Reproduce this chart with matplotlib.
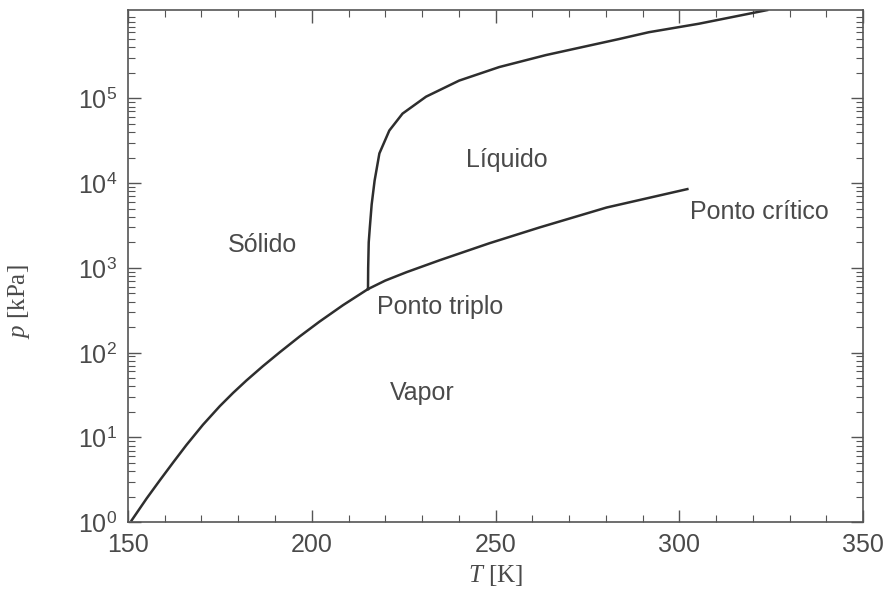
import matplotlib
matplotlib.use("Agg")
import matplotlib.pyplot as plt
import matplotlib.ticker as ticker
import numpy as np

plt.rcParams["mathtext.fontset"] = "custom"
plt.rcParams["mathtext.rm"] = "Liberation Sans"
plt.rcParams["mathtext.it"] = "Liberation Serif:italic"

# valores (T em K, p em kPa)
sub_T = [151.0, 155.1, 158.7, 162.3, 165.9, 170.4, 175.0, 178.6, 182.2, 186.7,
         191.3, 196.7, 202.1, 208.5, 215.3]
sub_p = [1.05, 1.91, 3.13, 5.07, 8.13, 14.1, 23.4, 33.5, 46.8, 69.2,
         101, 155, 232, 363, 562]

vap_T = [215.3, 220.0, 225.8, 234.8, 248.3, 262.0, 280.2, 302.2]
vap_p = [562, 708, 890, 1230, 1950, 3000, 5150, 8500]

fus_T = [215.3, 215.35, 215.5, 215.8, 216.3, 217.1, 218.4, 221.1, 224.7, 231.1,
         240.1, 251.0, 263.7, 276.3, 283.6, 291.7, 305.3, 323.9]
fus_p = [562, 1000, 2000, 3000, 5600, 10700, 22400, 41700, 66100, 104700,
         162000, 234000, 324000, 427000, 501000, 603000, 759000, 1.1e6]

labels = ["Sólido", "Líquido", "Vapor", "Ponto triplo", "Ponto crítico"]
label_T = [186.7, 253.2, 230.0, 234.8, 321.7]
label_p = [1850, 18600, 33, 350, 4600]

xticks = [150, 200, 250, 300, 350]
yticks = [1e0, 1e1, 1e2, 1e3, 1e4, 1e5]

txt = "#4a4a4a"
line = "#2e2e2e"

fig = plt.figure(figsize=(8.87, 5.94), dpi=100)
ax = fig.add_axes([0.1443, 0.121, 0.8287, 0.862])

ax.plot(sub_T, sub_p, color=line, lw=1.8)
ax.plot(vap_T, vap_p, color=line, lw=1.8)
ax.plot(fus_T, fus_p, color=line, lw=1.8)

for s, t, p in zip(labels, label_T, label_p):
    ax.text(t, p, s, ha="center", va="center", fontsize=18,
            family="Liberation Sans", color=txt)

ax.set_yscale("log")
ax.set_xlim(150, 350)
ax.set_ylim(1, 1.1e6)
ax.set_xticks(xticks)
ax.set_xticklabels([str(v) for v in xticks])
ax.xaxis.set_minor_locator(ticker.MultipleLocator(10))
ax.set_yticks(yticks)
ax.set_yticklabels([r"$10^{%d}$" % i for i in range(len(yticks))])
ax.yaxis.set_minor_locator(ticker.LogLocator(base=10, subs=np.arange(2, 10), numticks=20))
ax.yaxis.set_minor_formatter(ticker.NullFormatter())

ax.tick_params(which="both", direction="in", top=True, right=True, colors="#555555",
               labelcolor=txt, labelsize=18)
ax.tick_params(which="major", length=9, width=1)
ax.tick_params(which="minor", length=5, width=0.8)
ax.tick_params(axis="x", which="major", pad=8)
ax.tick_params(axis="y", which="major", pad=8)
for lbl in ax.get_xticklabels() + ax.get_yticklabels():
    lbl.set_family("Liberation Sans")
for sp in ax.spines.values():
    sp.set_color("#555555")
    sp.set_linewidth(1.2)

ax.set_xlabel(r"$T$ [K]", fontsize=18, family="Liberation Serif", color=txt)
ax.set_ylabel(r"$p$ [kPa]", fontsize=18, family="Liberation Serif", color=txt)
ax.xaxis.set_label_coords(0.5, -0.08)
ax.yaxis.set_label_coords(-0.13, 0.43)

fig.savefig("out.png", dpi=100)
